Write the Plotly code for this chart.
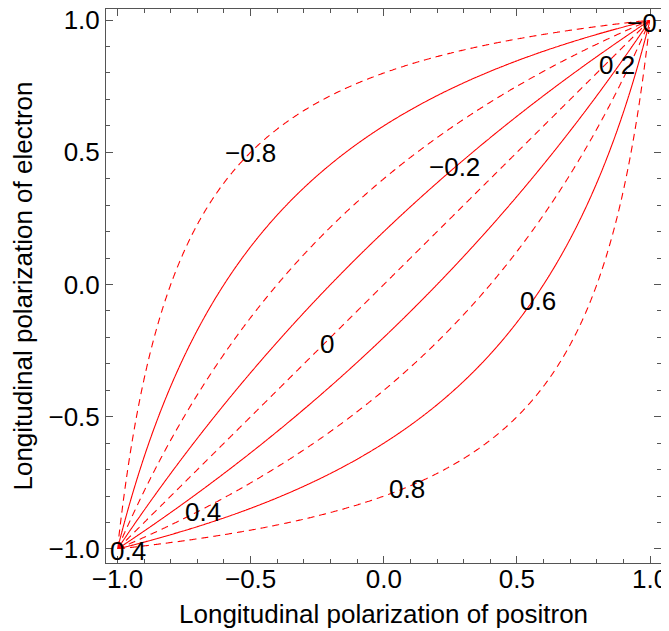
import numpy as np
import plotly.graph_objects as go

# Contour levels: dashed and solid alternate
dashed_levels = [-0.8, -0.4, 0.0, 0.4, 0.8]
solid_levels = [-0.6, -0.2, 0.2, 0.6]

# Tick values / labels
tick_vals = [-1.0, -0.5, 0.0, 0.5, 1.0]
tick_text = ["\u22121.0", "\u22120.5", "0.0", "0.5", "1.0"]

# Axis titles
x_title = "Longitudinal polarization of positron"
y_title = "Longitudinal polarization of electron"

# Contour label texts and their positions (positron, electron)
label_text = ["\u22120.8", "\u22120.2", "0", "0.6", "0.8", "0.4", "0.2", "0.4"]
label_x = [-0.50, 0.266, -0.214, 0.578, 0.086, -0.679, 0.874, -0.96]
label_y = [0.496, 0.443, -0.223, -0.061, -0.773, -0.86, 0.83, -1.008]
corner_text = "\u22120."
corner_x, corner_y = 0.905, 0.99

# Effective polarization field on a grid (positron x, electron y)
gx = np.linspace(-1, 1, 601)
gy = np.linspace(-1, 1, 598)
X, Y = np.meshgrid(gx, gy)
with np.errstate(divide="ignore", invalid="ignore"):
    Z = (X - Y) / (1 - X * Y)
# the two singular corners: give them a tiny non-zero value
Z[~np.isfinite(Z)] = 1e-4

RED = "#ff0000"
FONT = "Liberation Sans, Arial, sans-serif"
FS = 26

fig = go.Figure()

def contour_trace(levels, dash):
    step = levels[1] - levels[0]
    return go.Contour(
        x=gx, y=gy, z=Z,
        contours=dict(start=levels[0], end=levels[-1] + 1e-9, size=step,
                      coloring="none", showlabels=False),
        line=dict(color=RED, width=1.1, dash=dash, smoothing=0),
        showscale=False, hoverinfo="skip",
    )

fig.add_trace(contour_trace(solid_levels, "solid"))
fig.add_trace(contour_trace(dashed_levels, "7px,5px"))

for t, x, y in zip(label_text, label_x, label_y):
    fig.add_annotation(x=x, y=y, text=t, showarrow=False,
                       font=dict(family=FONT, size=FS, color="black"))
fig.add_annotation(x=corner_x, y=corner_y, text=corner_text, showarrow=False,
                   xanchor="left", font=dict(family=FONT, size=FS, color="black"))

# x axis title as a paper-positioned annotation
fig.add_annotation(x=0.5, y=-0.092, xref="paper", yref="paper", text=x_title,
                   showarrow=False, xanchor="center", yanchor="middle",
                   font=dict(family=FONT, size=FS, color="black"))

axis_common = dict(
    showgrid=False, zeroline=False, showline=True, linecolor="#555555",
    linewidth=1, mirror="ticks", ticks="inside", ticklen=7, tickwidth=1,
    tickcolor="#555555", tickvals=tick_vals, ticktext=tick_text,
    tickfont=dict(family=FONT, size=FS, color="black"),
    minor=dict(dtick=0.1, tick0=0, ticks="inside", ticklen=4,
               tickcolor="#555555", showgrid=False),
    automargin=False, ticklabeloverflow="allow",
)

# the page body adds an 8 px offset; the figure is sized to fit the window
fig.update_layout(
    width=661, height=623,
    margin=dict(l=98, r=8, t=1, b=68),
    paper_bgcolor="white", plot_bgcolor="white",
    showlegend=False,
    xaxis=dict(range=[-1.043, 1.041], ticklabelstandoff=-7, **axis_common),
    yaxis=dict(range=[-1.053, 1.042],
               title=dict(text=y_title,
                          font=dict(family=FONT, size=FS, color="black"),
                          standoff=10),
               **axis_common),
)

fig.write_html("out.html")
